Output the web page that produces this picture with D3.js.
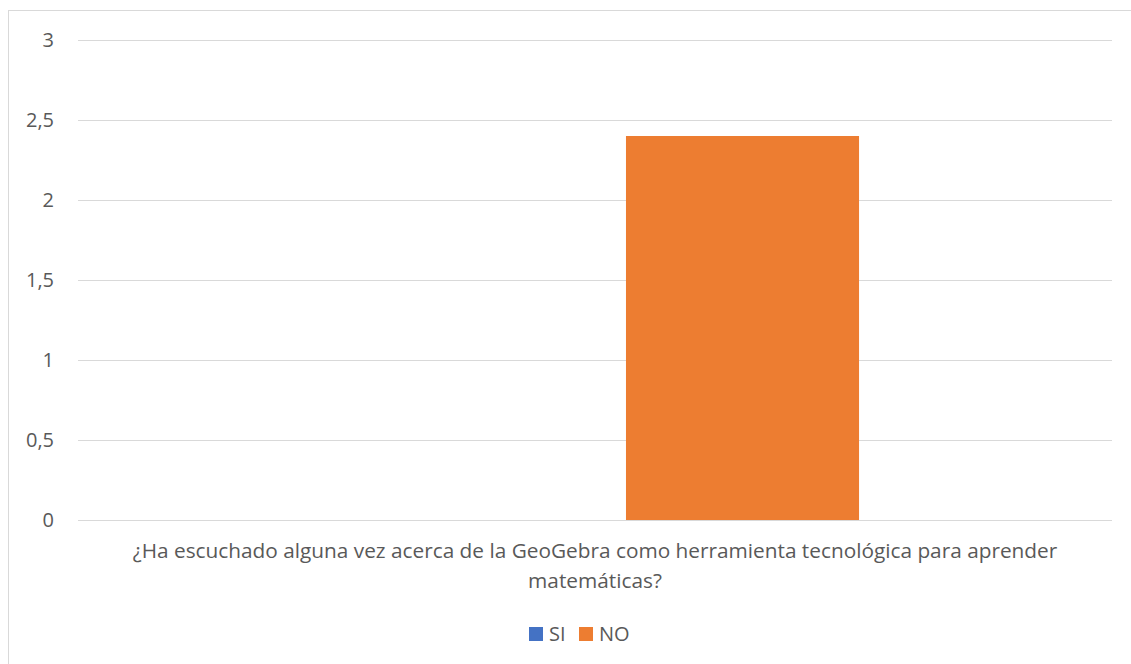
<!DOCTYPE html>
<html lang="es">
<head>
<meta charset="UTF-8">
<title>GeoGebra</title>
<script src="https://d3js.org/d3.v7.min.js"></script>
<style>
  body { margin: 0; background: #fff; }
  text { font-family: "Open Sans", Lato, sans-serif; fill: #595959; }
  .grid line { stroke: #d9d9d9; stroke-width: 1; shape-rendering: crispEdges; }
</style>
</head>
<body>
<script>

var categories = ["¿Ha escuchado alguna vez acerca de la GeoGebra como herramienta tecnológica para aprender matemáticas?"];
var seriesNames = ["SI", "NO"];
var siValues = [0];
var noValues = [2.4];
var yTicks = [0, 0.5, 1, 1.5, 2, 2.5, 3];
var colors = ["#4472c4", "#ed7d31"];

var W = 1131, H = 664;
var margin = {top: 40, right: 19, bottom: 144, left: 78},
    width = W - margin.left - margin.right,
    height = H - margin.top - margin.bottom;

var svg = d3.select("body").append("svg")
    .attr("width", W)
    .attr("height", H);

// chart area border
svg.append("rect")
    .attr("x", 8.5).attr("y", 10.5)
    .attr("width", 1130).attr("height", 660)
    .attr("fill", "none")
    .attr("stroke", "#d9d9d9");

var g = svg.append("g")
    .attr("transform", "translate(" + margin.left + "," + margin.top + ")");

var x0 = d3.scaleBand().domain(categories).range([0, width]).paddingInner(0).paddingOuter(0.479);
var x1 = d3.scaleBand().domain(seriesNames).range([0, x0.bandwidth()]).paddingInner(0.21);
var y = d3.scaleLinear().domain([0, 3]).range([height, 0]);

// gridlines
g.append("g").attr("class", "grid")
  .selectAll("line")
  .data(yTicks)
  .enter().append("line")
    .attr("x1", 0).attr("x2", width)
    .attr("y1", function(d) { return Math.round(y(d)) + 0.5; })
    .attr("y2", function(d) { return Math.round(y(d)) + 0.5; });

// y axis labels
var fmt = function(d) { return String(d).replace(".", ","); };
var yAxis = d3.axisLeft(y).tickValues(yTicks).tickFormat(fmt).tickSize(0).tickPadding(24);
var ya = g.append("g").call(yAxis);
ya.select(".domain").remove();
ya.selectAll("text")
    .style("font-size", "20px")
    .attr("fill", "#595959")
    .style("font-family", "'Open Sans', sans-serif");

// bars
var rows = categories.map(function(c, i) {
    return {cat: c, values: [{key: "SI", value: siValues[i]}, {key: "NO", value: noValues[i]}]};
});

var grp = g.selectAll(".cat")
    .data(rows)
    .enter().append("g")
    .attr("class", "cat")
    .attr("transform", function(d) { return "translate(" + x0(d.cat) + ",0)"; });

grp.selectAll("rect")
    .data(function(d) { return d.values; })
    .enter().append("rect")
    .attr("x", function(d) { return x1(d.key); })
    .attr("width", x1.bandwidth())
    .attr("y", function(d) { return y(d.value); })
    .attr("height", function(d) { return height - y(d.value); })
    .attr("fill", function(d, i) { return colors[i]; });

// category label (wrapped)
function wrap(textSel, maxW) {
    textSel.each(function() {
        var t = d3.select(this),
            words = t.text().split(/\s+/),
            line = [], lines = [];
        t.text(null);
        var tmp = t.append("tspan");
        words.forEach(function(w) {
            line.push(w);
            tmp.text(line.join(" "));
            if (tmp.node().getComputedTextLength() > maxW && line.length > 1) {
                line.pop();
                lines.push(line.join(" "));
                line = [w];
            }
        });
        lines.push(line.join(" "));
        tmp.remove();
        lines.forEach(function(l, i) {
            t.append("tspan").attr("x", t.attr("x")).attr("dy", i === 0 ? 0 : 30).text(l);
        });
    });
}

g.append("text")
    .attr("x", width / 2)
    .attr("y", height + 38)
    .attr("text-anchor", "middle")
    .style("font-size", "20.8px")
    .text(categories[0])
    .call(wrap, 1000);

// legend
var legend = svg.append("g").attr("transform", "translate(529,627)");
var li = legend.selectAll("g")
    .data(seriesNames)
    .enter().append("g")
    .attr("transform", function(d, i) { return "translate(" + (i * 50) + ",0)"; });
li.append("rect")
    .attr("width", 14).attr("height", 14)
    .attr("fill", function(d, i) { return colors[i]; });
li.append("text")
    .attr("x", 20).attr("y", 14)
    .style("font-size", "20px")
    .text(function(d) { return d; });

</script>
</body>
</html>
